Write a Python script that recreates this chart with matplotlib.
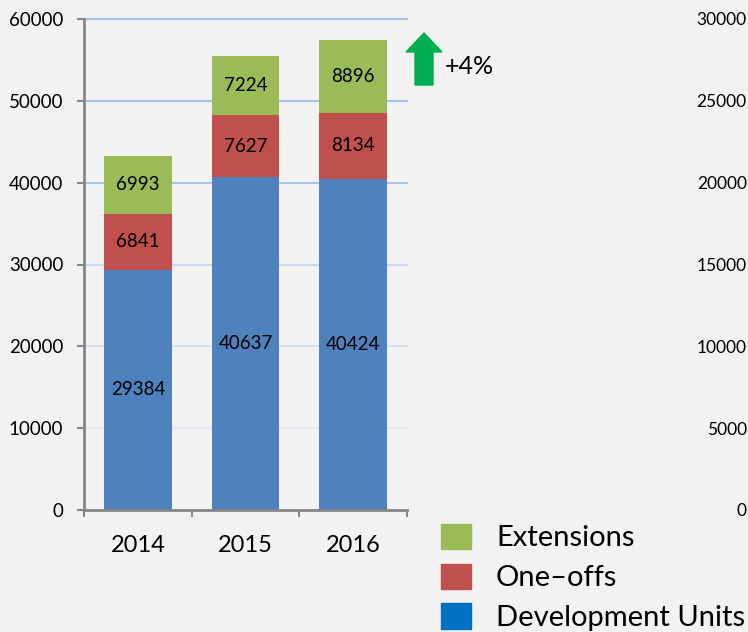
import numpy as np
import matplotlib
matplotlib.use('Agg')
import matplotlib.pyplot as plt
from matplotlib.patches import Patch, Polygon

plt.rcParams['font.family'] = ['Lato', 'DejaVu Sans']

years = ['2014', '2015', '2016']
dev_units = [29384, 40637, 40424]
one_offs = [6841, 7627, 8134]
extensions = [6993, 7224, 8896]
left_ticks = [0, 10000, 20000, 30000, 40000, 50000, 60000]
right_ticks = [0, 5000, 10000, 15000, 20000, 25000, 30000]
growth_label = '+4%'

W, H = 748, 632
BG = '#F2F2F2'
GRAY = '#868686'
C_DEV = '#4F81BD'
C_ONE = '#C0504D'
C_EXT = '#9BBB59'
C_DEV_LEG = '#0070C0'


def px(x, y):
    return x / W, 1 - y / H


fig = plt.figure(figsize=(W / 100, H / 100), dpi=100, facecolor=BG)
ax = fig.add_axes([84 / W, 1 - 510 / H, (407 - 84) / W, (510 - 19) / H])
ax.set_facecolor(BG)

x = np.arange(len(years))
width = 0.63
bottom2 = np.array(dev_units)
bottom3 = bottom2 + np.array(one_offs)

# fading grid lines
for i, t in enumerate(left_ticks[1:]):
    a = [0.2, 0.35, 0.55, 0.95, 1.0, 1.0][i]
    ax.axhline(t, color='#A9C1E8', lw=1.5, alpha=a, zorder=0, clip_on=False)

b1 = ax.bar(x, dev_units, width, color=C_DEV, zorder=2)
b2 = ax.bar(x, one_offs, width, bottom=bottom2, color=C_ONE, zorder=2)
b3 = ax.bar(x, extensions, width, bottom=bottom3, color=C_EXT, zorder=2)
for bars in (b1, b2, b3):
    ax.bar_label(bars, label_type='center', fontsize=13.5, color='black')

ax.set_xlim(-0.5, 2.5)
ax.set_ylim(0, 60000)
ax.set_yticks(left_ticks)
ax.set_xticks(x)
ax.set_xticklabels(years)
ax.set_xticks([-0.5, 0.5, 1.5, 2.5], minor=True)
ax.tick_params(axis='x', which='major', length=0, pad=18, labelsize=17)
ax.tick_params(axis='x', which='minor', length=5, width=1.5, color=GRAY)
ax.tick_params(axis='y', length=5, width=1.5, color=GRAY, labelsize=13.5, pad=10)
for s in ('top', 'right'):
    ax.spines[s].set_visible(False)
for s in ('left', 'bottom'):
    ax.spines[s].set_color(GRAY)
    ax.spines[s].set_linewidth(2)

# partially visible neighbouring chart axis
ax2 = fig.add_axes([751 / W, 1 - 510 / H, 0.05, (510 - 19) / H])
ax2.set_ylim(0, 30000)
ax2.set_yticks(right_ticks)
ax2.set_xticks([])
ax2.tick_params(axis='y', length=0, labelsize=12.5, pad=3)
for s in ax2.spines.values():
    s.set_visible(False)
ax2.patch.set_visible(False)

# growth arrow
pts = [(406, 52), (424, 33), (442, 52), (433, 52), (433, 85), (415, 85), (415, 52)]
fig.patches.append(Polygon([px(*p) for p in pts], closed=True, color='#00B050',
                           transform=fig.transFigure))
fig.text(*px(445, 66), growth_label, fontsize=18, va='center', ha='left')

handles = [Patch(color=C_EXT), Patch(color=C_ONE), Patch(color=C_DEV_LEG)]
fig.legend(handles, ['Extensions', 'One\u2013offs', 'Development Units'],
           loc='upper left', bbox_to_anchor=px(429, 512), frameon=False,
           fontsize=21, handlelength=1.05, handleheight=0.95,
           handletextpad=0.85, labelspacing=0.42, borderaxespad=0)

fig.savefig('out.png', dpi=100, facecolor=BG)
